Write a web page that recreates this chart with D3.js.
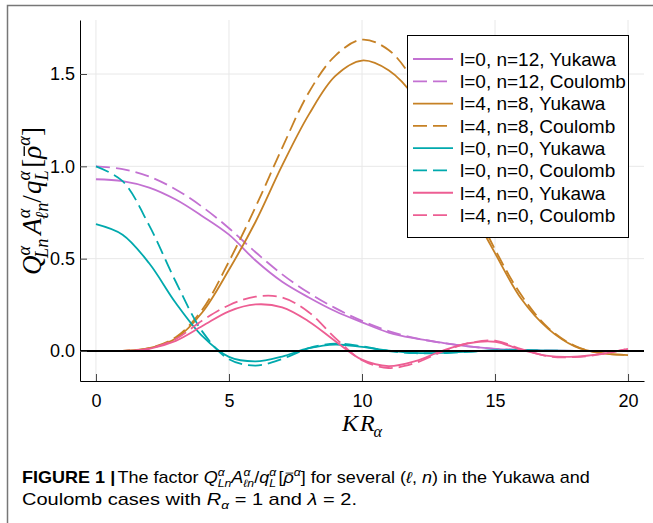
<!DOCTYPE html>
<html>
<head>
<meta charset="utf-8">
<script src="https://cdn.jsdelivr.net/npm/d3@7"></script>
<style>
  body { margin: 0; background: #fff; }
  svg { display: block; }
  text { white-space: pre; }
</style>
</head>
<body>
<div id="chart"></div>
<script>
// Data
const kr = [0, 1, 2, 3, 4, 5, 6, 7, 8, 9, 10, 11, 12, 13, 14, 15, 16, 17, 18, 19, 20];

const l0n12Yukawa = [0.93, 0.92, 0.885, 0.82, 0.73, 0.63, 0.49, 0.375, 0.29, 0.215, 0.155, 0.10, 0.068, 0.045, 0.025, 0.012, 0.005, 0.002, 0.001, 0, 0];
const l0n12Coulomb = [1.0, 0.985, 0.945, 0.875, 0.78, 0.665, 0.535, 0.415, 0.315, 0.232, 0.163, 0.108, 0.07, 0.044, 0.025, 0.012, 0.005, 0.002, 0, 0, 0];
const l4n8Yukawa = [0, 0.001, 0.015, 0.068, 0.21, 0.44, 0.70, 1.005, 1.28, 1.49, 1.573, 1.52, 1.37, 1.10, 0.80, 0.53, 0.28, 0.12, 0.025, -0.012, -0.022];
const l4n8Coulomb = [0, 0.001, 0.016, 0.075, 0.225, 0.485, 0.78, 1.10, 1.40, 1.60, 1.686, 1.63, 1.45, 1.17, 0.85, 0.55, 0.30, 0.125, 0.028, -0.012, -0.022];
const l0n0Yukawa = [0.687, 0.63, 0.475, 0.26, 0.08, -0.032, -0.056, -0.03, 0.015, 0.035, 0.022, 0.002, -0.01, -0.01, -0.003, 0.003, 0.004, 0.002, 0, -0.001, 0];
const l0n0Coulomb = [1.0, 0.92, 0.68, 0.375, 0.105, -0.045, -0.079, -0.043, 0.015, 0.04, 0.025, 0, -0.012, -0.012, -0.004, 0.003, 0.004, 0.002, 0, -0.001, 0];
const l4n0Yukawa = [0, 0, 0.012, 0.055, 0.135, 0.215, 0.252, 0.236, 0.16, 0.053, -0.047, -0.082, -0.055, 0, 0.042, 0.05, 0.006, -0.027, -0.031, -0.016, 0.012];
const l4n0Coulomb = [0, 0, 0.013, 0.065, 0.165, 0.248, 0.294, 0.29, 0.21, 0.07, -0.05, -0.092, -0.065, -0.005, 0.042, 0.056, 0.01, -0.029, -0.033, -0.017, 0.012];

const seriesLabels = [
  "l=0, n=12, Yukawa", "l=0, n=12, Coulomb",
  "l=4, n=8, Yukawa", "l=4, n=8, Coulomb",
  "l=0, n=0, Yukawa", "l=0, n=0, Coulomb",
  "l=4, n=0, Yukawa", "l=4, n=0, Coulomb"
];
const seriesValues = [l0n12Yukawa, l0n12Coulomb, l4n8Yukawa, l4n8Coulomb, l0n0Yukawa, l0n0Coulomb, l4n0Yukawa, l4n0Coulomb];

const xTicks = [0, 5, 10, 15, 20];
const yTicks = [0, 0.5, 1.0, 1.5];

// Styles
const colours = ["#C371D2", "#C371D2", "#C68125", "#C68125", "#00A9AD", "#00A9AD", "#ED5E93", "#ED5E93"];
const dashed = [false, true, false, true, false, true, false, true];

const width = 653, height = 523;
const plot = { left: 80, right: 644, top: 20, bottom: 381 };

const svg = d3.select("#chart").append("svg")
  .attr("width", width)
  .attr("height", height);

svg.append("rect").attr("width", width).attr("height", height).attr("fill", "#fff");

// outer figure frame (top and left)
svg.append("path")
  .attr("d", `M7.5,${height} V5.5 H${width}`)
  .attr("fill", "none")
  .attr("stroke", "#777")
  .attr("stroke-width", 1.5);

// Scales
const x = d3.scaleLinear().domain([-0.6, 20.6]).range([plot.left, plot.right]);
const y = d3.scaleLinear().domain([-0.1625, 1.7925]).range([plot.bottom, plot.top]);

// Grid
const grid = svg.append("g").attr("stroke", "#e8e8e8").attr("stroke-width", 1);
grid.selectAll(".gx").data(xTicks).join("line")
  .attr("x1", d => x(d)).attr("x2", d => x(d))
  .attr("y1", plot.top).attr("y2", plot.bottom);
grid.selectAll(".gy").data(yTicks).join("line")
  .attr("y1", d => y(d)).attr("y2", d => y(d))
  .attr("x1", plot.left).attr("x2", plot.right);

// Curves
svg.append("clipPath").attr("id", "clip").append("rect")
  .attr("x", plot.left).attr("y", plot.top)
  .attr("width", plot.right - plot.left).attr("height", plot.bottom - plot.top);

const line = d3.line()
  .x((d, i) => x(kr[i]))
  .y(d => y(d))
  .curve(d3.curveCatmullRom.alpha(0.5));

svg.append("g").attr("clip-path", "url(#clip)")
  .selectAll("path")
  .data(seriesValues)
  .join("path")
  .attr("d", d => line(d))
  .attr("fill", "none")
  .attr("stroke", (d, i) => colours[i])
  .attr("stroke-width", 1.8)
  .attr("stroke-dasharray", (d, i) => dashed[i] ? "14,6" : null);

// zero line
svg.append("line")
  .attr("x1", plot.left).attr("x2", plot.right)
  .attr("y1", y(0)).attr("y2", y(0))
  .attr("stroke", "#000").attr("stroke-width", 2);

// Axes
const yAxis = d3.axisLeft(y).tickValues(yTicks).tickFormat(d3.format(".1f"))
  .tickSize(-7).tickSizeOuter(0).tickPadding(5);
const xAxis = d3.axisBottom(x).tickValues(xTicks).tickFormat(d3.format("d"))
  .tickSize(-7).tickSizeOuter(0).tickPadding(13);

svg.append("g").attr("transform", `translate(${plot.left},0)`).call(yAxis)
  .call(g => g.selectAll("text").style("font-family", "'Liberation Sans', Arial, sans-serif").style("font-size", "18px").attr("fill", "#000"))
  .call(g => g.selectAll(".tick line").attr("stroke", "#444"))
  .call(g => g.select(".domain").attr("stroke", "#000"));

svg.append("g").attr("transform", `translate(0,${plot.bottom})`).call(xAxis)
  .call(g => g.selectAll("text").style("font-family", "'Liberation Sans', Arial, sans-serif").style("font-size", "18px").attr("fill", "#000"))
  .call(g => g.selectAll(".tick line").attr("stroke", "#444"))
  .call(g => g.select(".domain").attr("stroke", "#000"));

// Math-ish text helper: parts laid out left to right with sup/sub
function mathText(parent, parts, family, size) {
  const g = parent.append("g");
  let cx = 0;
  parts.forEach(p => {
    const fam = p.family || family;
    const base = g.append("text")
      .attr("x", cx).attr("y", 0)
      .style("font-family", fam)
      .style("font-size", size + "px")
      .style("font-style", p.it ? "italic" : "normal")
      .style("font-weight", p.bold ? "bold" : "normal")
      .attr("fill", "#000")
      .text(p.t);
    const w = base.node().getComputedTextLength();
    if (p.bar) {
      g.append("line")
        .attr("x1", cx + w * 0.2).attr("x2", cx + w * 0.95)
        .attr("y1", -size * 0.62).attr("y2", -size * 0.62)
        .attr("stroke", "#000").attr("stroke-width", size * 0.05);
    }
    let sw = 0;
    const small = size * 0.68;
    if (p.sup) {
      const s = g.append("text")
        .attr("x", cx + w + (p.supdx || 0)).attr("y", -size * 0.42)
        .style("font-family", fam).style("font-size", small + "px")
        .style("font-style", "italic").attr("fill", "#000").text(p.sup);
      sw = Math.max(sw, s.node().getComputedTextLength() + (p.supdx || 0));
    }
    if (p.sub) {
      const s = g.append("text")
        .attr("x", cx + w + (p.subdx || 0)).attr("y", size * 0.26)
        .style("font-family", fam).style("font-size", small + "px")
        .style("font-style", "italic").attr("fill", "#000").text(p.sub);
      sw = Math.max(sw, s.node().getComputedTextLength() + (p.subdx || 0));
    }
    cx += w + sw + (p.after || 0);
  });
  return { g, width: cx };
}

const serif = "'Liberation Serif', 'Times New Roman', serif";

// y-axis label
const yLab = svg.append("g").attr("transform", "translate(41,201) rotate(-90)");
const yl = mathText(yLab, [
  { t: "Q", it: true, sup: "α", sub: "Ln", subdx: -2, after: 3 },
  { t: "A", it: true, sup: "α", sub: "ℓn", subdx: -1 },
  { t: "/", after: 1 },
  { t: "q", it: true, sup: "α", sub: "L", after: 2 },
  { t: "[" },
  { t: "ρ", it: true, bar: true, sup: "α" },
  { t: "]" }
], serif, 22);
const ySc = 148 / yl.width;
yl.g.attr("transform", `scale(${ySc}) translate(${-yl.width / 2},0)`);

// x-axis label
const xLab = svg.append("g").attr("transform", "translate(362,431)");
const xl = mathText(xLab, [
  { t: "K", it: true, after: 2 },
  { t: "R", it: true, sub: "α", subdx: -1 }
], serif, 24);
xl.g.attr("transform", `translate(${-xl.width / 2},0)`);

// Legend
const legend = svg.append("g");
legend.append("rect")
  .attr("x", 407.5).attr("y", 35.5)
  .attr("width", 221).attr("height", 202)
  .attr("fill", "#fff").attr("stroke", "#000").attr("stroke-width", 1);

const rowY = i => 59 + i * 22.29;
legend.selectAll(".lline").data(seriesLabels).join("line")
  .attr("x1", 413).attr("x2", 453)
  .attr("y1", (d, i) => rowY(i)).attr("y2", (d, i) => rowY(i))
  .attr("stroke", (d, i) => colours[i])
  .attr("stroke-width", 1.8)
  .attr("stroke-dasharray", (d, i) => dashed[i] ? "14,6" : null);
legend.selectAll(".ltext").data(seriesLabels).join("text")
  .attr("x", 460)
  .attr("y", (d, i) => rowY(i) + 6.8)
  .style("font-family", "'Liberation Sans', Arial, sans-serif")
  .style("font-size", "19px")
  .attr("fill", "#000")
  .text(d => d);

// Caption
const cap = "'Liberation Sans Narrow', 'Arial Narrow', 'Liberation Sans', sans-serif";
const cap1 = svg.append("g").attr("transform", "translate(22,483)");
const c1 = mathText(cap1, [
  { t: "FIGURE 1 ", bold: true },
  { t: "|", bold: true, after: 2 },
  { t: "The factor " },
  { t: "Q", it: true, sup: "α", sub: "Ln" },
  { t: "A", it: true, sup: "α", sub: "ℓn" },
  { t: "/" },
  { t: "q", it: true, sup: "α", sub: "L", after: 2 },
  { t: "[" },
  { t: "ρ", it: true, bar: true, sup: "α" },
  { t: "] for several (" },
  { t: "ℓ", it: true },
  { t: ", " },
  { t: "n", it: true },
  { t: ") in the Yukawa and" }
], cap, 16);
c1.g.attr("transform", `scale(${568 / c1.width},1)`);

const cap2 = svg.append("g").attr("transform", "translate(22,505)");
const c2 = mathText(cap2, [
  { t: "Coulomb cases with " },
  { t: "R", it: true, sub: "α" },
  { t: " = 1 and " },
  { t: "λ", it: true },
  { t: " = 2." }
], cap, 16);
c2.g.attr("transform", `scale(${335 / c2.width},1)`);
</script>
</body>
</html>
